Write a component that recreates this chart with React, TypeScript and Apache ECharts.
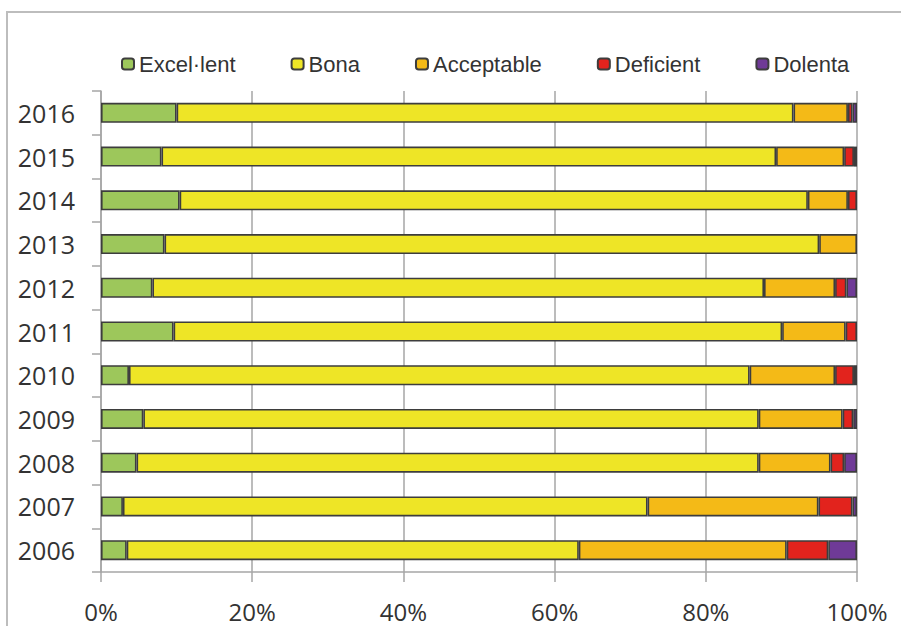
import React, { useEffect, useRef } from "react";
import * as echarts from "echarts";

const years = ["2006", "2007", "2008", "2009", "2010", "2011", "2012", "2013", "2014", "2015", "2016"];
const seriesNames = ["Excel·lent", "Bona", "Acceptable", "Deficient", "Dolenta"];
const excellent = [3.4, 2.9, 4.7, 5.6, 3.7, 9.6, 6.8, 8.4, 10.4, 8.0, 10.0];
const bona = [59.8, 69.4, 82.3, 81.4, 82.1, 80.5, 80.9, 86.6, 83.1, 81.3, 81.6];
const acceptable = [27.5, 22.6, 9.5, 11.1, 11.3, 8.4, 9.4, 5.0, 5.3, 9.0, 7.2];
const deficient = [5.5, 4.5, 1.8, 1.4, 2.5, 1.5, 1.5, 0, 1.2, 1.3, 0.6];
const dolenta = [3.8, 0.6, 1.7, 0.5, 0.4, 0, 1.4, 0, 0, 0.4, 0.6];
const xTicks = [0, 20, 40, 60, 80, 100];
const colors = ["#9DC75B", "#EEE526", "#F4BA17", "#E2231D", "#6F3A97"];

export default function App() {
  const ref = useRef<HTMLDivElement>(null);
  useEffect(() => {
    document.body.style.margin = "0";
    const chart = echarts.init(ref.current!, null, { renderer: "svg" });
    const values = [excellent, bona, acceptable, deficient, dolenta];
    chart.setOption({
      animation: false,
      backgroundColor: "#ffffff",
      graphic: [
        {
          type: "rect",
          shape: { x: 7, y: 12, width: 910, height: 640 },
          style: { fill: "none", stroke: "#bdbdbd", lineWidth: 2 },
          silent: true,
        },
      ],
      legend: {
        data: seriesNames,
        left: 116,
        top: 48,
        itemWidth: 12,
        itemHeight: 11,
        itemGap: 55,
        textStyle: { fontFamily: "Liberation Sans", fontSize: 22, color: "#333333" },
      },
      grid: { left: 101, right: 44, top: 91, bottom: 54, containLabel: false },
      xAxis: {
        type: "value",
        min: xTicks[0],
        max: xTicks[xTicks.length - 1],
        interval: 20,
        axisLine: { show: true, lineStyle: { color: "#a6a6a6", width: 1.5 } },
        axisTick: { show: true, length: 10, lineStyle: { color: "#a6a6a6", width: 1.5 } },
        splitLine: { show: true, lineStyle: { color: "#a6a6a6", width: 1.5 } },
        axisLabel: {
          formatter: "{value}%",
          fontFamily: "Open Sans",
          fontSize: 24,
          color: "#333333",
          margin: 27,
        },
      },
      yAxis: {
        type: "category",
        data: years,
        axisLine: { show: true, lineStyle: { color: "#a6a6a6", width: 1.5 } },
        axisTick: { show: true, length: 9, lineStyle: { color: "#a6a6a6", width: 1.5 } },
        axisLabel: {
          fontFamily: "Open Sans",
          fontSize: 25,
          color: "#333333",
          margin: 26,
        },
      },
      series: seriesNames.map((name, i) => ({
        name,
        type: "bar",
        stack: "total",
        barWidth: 20,
        data: values[i].map((v) => (v === 0 ? "-" : v)),
        itemStyle: { color: colors[i], borderColor: "#3d3d3d", borderWidth: 1.6 },
      })),
    });
    return () => chart.dispose();
  }, []);
  return <div ref={ref} style={{ width: 901, height: 626 }} />;
}
